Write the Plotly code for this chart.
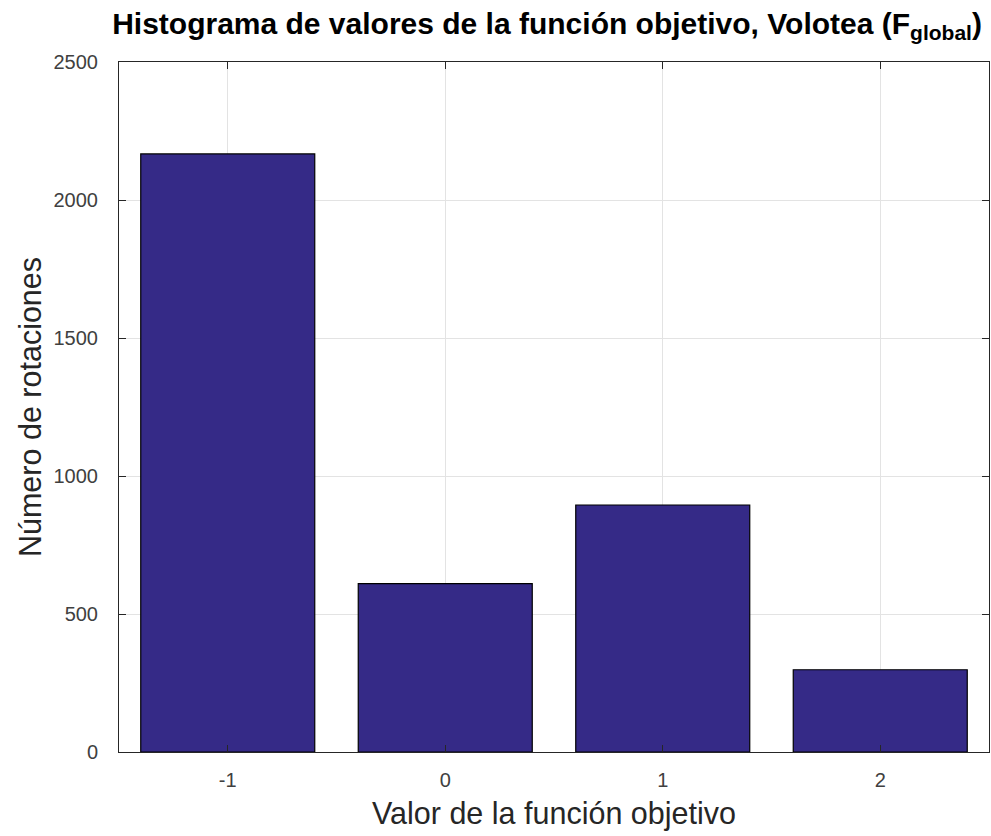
import plotly.graph_objects as go

# Histogram of objective-function values
valores = [-1, 0, 1, 2]
rotaciones = [2167, 610, 895, 298]
y_ticks = [0, 500, 1000, 1500, 2000, 2500]

FONT = "Liberation Sans, Arial, sans-serif"

fig = go.Figure(
    go.Bar(
        x=valores,
        y=rotaciones,
        width=0.8,
        marker=dict(color="#352A87", line=dict(color="#000000", width=1.2)),
    )
)

axis_common = dict(
    showline=True,
    linecolor="#262626",
    linewidth=1,
    mirror="ticks",
    ticks="inside",
    ticklen=7,
    tickcolor="#262626",
    showgrid=True,
    gridcolor="#E3E3E3",
    gridwidth=1,
    zeroline=False,
    tickfont=dict(family=FONT, size=20, color="#404040"),
)

fig.update_xaxes(
    range=[-1.5, 2.5],
    tickvals=valores,
    ticktext=[str(v) for v in valores],
    ticklabelstandoff=10,
    title=dict(
        text="Valor de la función objetivo",
        font=dict(family=FONT, size=30.5, color="#262626"),
        standoff=12,
    ),
    **axis_common,
)
fig.update_yaxes(
    range=[0, 2500],
    tickvals=y_ticks,
    ticklabelstandoff=16,
    title=dict(
        text="Número de rotaciones",
        font=dict(family=FONT, size=30.5, color="#262626"),
        standoff=2,
    ),
    **axis_common,
)

fig.update_layout(
    width=991,
    height=836,
    margin=dict(l=119, r=2, t=62, b=84),
    paper_bgcolor="white",
    plot_bgcolor="white",
    showlegend=False,
    title=dict(
        text="<b>Histograma de valores de la función objetivo, Volotea (F<sub>global</sub>)</b>",
        x=0.552,
        xanchor="center",
        y=0.972,
        yanchor="middle",
        font=dict(family=FONT, size=30, color="#000000"),
    ),
)

fig.write_html("out.html")
